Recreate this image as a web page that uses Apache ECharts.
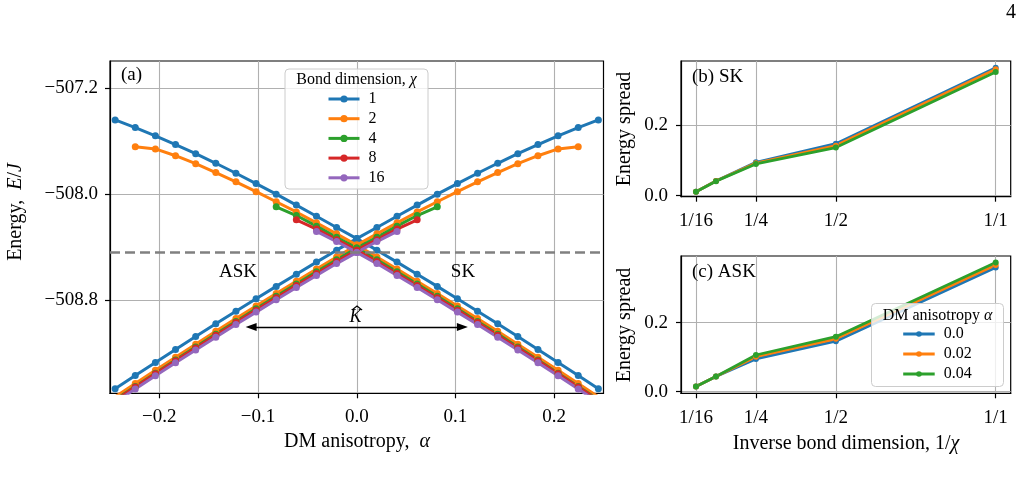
<!DOCTYPE html>
<html>
<head>
<meta charset="utf-8">
<script src="https://cdn.jsdelivr.net/npm/echarts@6/dist/echarts.min.js"></script>
<style>html,body{margin:0;padding:0;background:#fff}#c{width:1024px;height:486px}</style>
</head>
<body>
<div id="c"></div>
<script>
const FONT = '"Liberation Serif", "Times New Roman", serif';

// ---------- Panel (a): energy vs DM anisotropy ----------
const alpha = [-0.2448,-0.2244,-0.2040,-0.1836,-0.1632,-0.1428,-0.1224,-0.1020,-0.0816,-0.0612,-0.0408,-0.0204,0,
               0.0204,0.0408,0.0612,0.0816,0.1020,0.1224,0.1428,0.1632,0.1836,0.2040,0.2244,0.2448];
// SK-state energy for each bond dimension (ASK state is its mirror image in alpha)
const E_SK_chi1 = [-507.439,-507.497,-507.559,-507.625,-507.694,-507.766,-507.841,-507.919,-507.999,-508.081,-508.165,-508.250,-508.334,
                   -508.421,-508.511,-508.602,-508.694,-508.787,-508.881,-508.976,-509.072,-509.169,-509.267,-509.366,-509.466];
const E_SK_chi2 = [null,-507.641,-507.658,-507.709,-507.769,-507.836,-507.906,-507.980,-508.056,-508.133,-508.215,-508.298,-508.383,
                   -508.472,-508.563,-508.655,-508.748,-508.842,-508.937,-509.033,-509.130,-509.228,-509.327,-509.426,-509.527];
const E_SK_chi4 = [null,null,null,null,null,null,null,null,-508.094,-508.160,-508.240,-508.324,-508.405,
                   -508.493,-508.584,-508.676,-508.769,-508.863,-508.958,-509.054,-509.151,-509.249,-509.348,-509.448,-509.549];
const E_SK_chi8 = [null,null,null,null,null,null,null,null,null,-508.192,-508.262,-508.342,-508.421,
                   -508.507,-508.597,-508.688,-508.780,-508.873,-508.967,-509.062,-509.158,-509.255,-509.353,-509.452,-509.553];
const E_SK_chi16 = [null,null,null,null,null,null,null,null,null,null,-508.280,-508.356,-508.438,
                   -508.522,-508.612,-508.703,-508.795,-508.888,-508.982,-509.077,-509.173,-509.270,-509.368,-509.467,-509.568];
const chiNames = ['1','2','4','8','16'];
const alphaTicks = [-0.2,-0.1,0,0.1,0.2];
const energyTicks = [-508.8,-508.0,-507.2];
const dashedLevel = -508.445;
const arrowY = -509.0;
const arrowEnds = [-0.107, 0.107];

// ---------- Panels (b),(c): energy spread vs inverse bond dimension ----------
const invChi = [1/16, 1/8, 1/4, 1/2, 1];
const invChiTicks = [1/16, 1/4, 1/2, 1];
const invChiTickLabels = ['1/16','1/4','1/2','1/1'];
const spreadTicks = [0, 0.2];
const alphaNames = ['0.0','0.02','0.04'];
const spreadSK_a000 = [0.0113, 0.0415, 0.0943, 0.147, 0.362];
const spreadSK_a002 = [0.0113, 0.0415, 0.0920, 0.1415, 0.3575];
const spreadSK_a004 = [0.0113, 0.0410, 0.0896, 0.136, 0.350];
const spreadASK_a000 = [0.0145, 0.0435, 0.0947, 0.146, 0.360];
const spreadASK_a002 = [0.0145, 0.0435, 0.101, 0.153, 0.367];
const spreadASK_a004 = [0.0145, 0.0435, 0.106, 0.159, 0.374];

const COLORS = ['#1f77b4','#ff7f0e','#2ca02c','#d62728','#9467bd'];

function minusFmt(v, d) {
  const s = Math.abs(v).toFixed(d);
  return (v < -1e-9 ? '\u2212' : '') + s;
}
function makeAxis(o) {
  return {
    type: 'value', gridIndex: o.grid, min: o.min, max: o.max,
    axisLine: {show: true, onZero: false, lineStyle: {color: '#000', width: 1.2}},
    axisTick: {show: true, length: 5, customValues: o.ticks, lineStyle: {color: '#000', width: 1.2}},
    splitLine: {show: true, lineStyle: {color: '#b0b0b0', width: 1.1}},
    axisLabel: {customValues: o.ticks, formatter: o.fmt, color: '#000', fontFamily: FONT, fontSize: 19, margin: o.margin}
  };
}
const invFmt = v => {
  let best = 0;
  invChiTicks.forEach((t, i) => { if (Math.abs(t - v) < Math.abs(invChiTicks[best] - v)) best = i; });
  return invChiTickLabels[best];
};

const series = [];
const skSets = [E_SK_chi1, E_SK_chi2, E_SK_chi4, E_SK_chi8, E_SK_chi16];
// helper series for dashed level and arrow
series.push({
  type: 'line', xAxisIndex: 0, yAxisIndex: 0, data: [], z: 1, silent: true,
  markLine: {silent: true, symbol: 'none', label: {show: false},
    lineStyle: {color: '#808080', width: 2.6, type: [10, 5]},
    data: [{yAxis: dashedLevel}]}
});
series.push({
  type: 'line', xAxisIndex: 0, yAxisIndex: 0, data: [], z: 5, silent: true,
  markLine: {silent: true, symbol: ['triangle','triangle'], symbolSize: [8, 11], label: {show: false},
    lineStyle: {color: '#000', width: 1.3, type: 'solid'},
    data: [[{coord: [arrowEnds[0], arrowY]}, {coord: [arrowEnds[1], arrowY]}]]}
});
skSets.forEach((sk, i) => {
  const n = alpha.length;
  const skData = [], askData = [];
  alpha.forEach((a, j) => {
    if (sk[j] != null) skData.push([a, sk[j]]);
    if (sk[n - 1 - j] != null) askData.push([a, sk[n - 1 - j]]);
  });
  [skData, askData].forEach(d => {
    series.push({
      type: 'line', name: chiNames[i], xAxisIndex: 0, yAxisIndex: 0, data: d, clip: true,
      symbol: 'circle', symbolSize: 7, showSymbol: true,
      lineStyle: {color: COLORS[i], width: 3}, itemStyle: {color: COLORS[i]},
      emphasis: {disabled: true}
    });
  });
});
[[spreadSK_a000, spreadSK_a002, spreadSK_a004], [spreadASK_a000, spreadASK_a002, spreadASK_a004]].forEach((sets, p) => {
  sets.forEach((vals, i) => {
    series.push({
      type: 'line', name: alphaNames[i], xAxisIndex: p + 1, yAxisIndex: p + 1,
      data: invChi.map((x, j) => [x, vals[j]]),
      symbol: 'circle', symbolSize: 6, lineStyle: {color: COLORS[i], width: 2.8}, itemStyle: {color: COLORS[i]},
      emphasis: {disabled: true}
    });
  });
});

const txt = (x, y, text, size, align, extra) => Object.assign({
  type: 'text', x: x, y: y, z: 55,
  style: {text: text, fill: '#000', fontFamily: FONT, fontSize: size,
    align: align || 'center', verticalAlign: 'middle', textAlign: align || 'center', textVerticalAlign: 'middle',
    rich: {i: {fontStyle: 'italic', fontFamily: FONT, fontSize: size}}}
}, extra || {});

const option = {
  animation: false,
  backgroundColor: '#fff',
  grid: [
    {left: 110, top: 61, width: 493.5, height: 332.3, show: true, borderColor: '#000', borderWidth: 1.2, backgroundColor: 'transparent'},
    {left: 681, top: 61, width: 329.7, height: 135.7, show: true, borderColor: '#000', borderWidth: 1.2, backgroundColor: 'transparent'},
    {left: 681, top: 256, width: 329.7, height: 137.3, show: true, borderColor: '#000', borderWidth: 1.2, backgroundColor: 'transparent'}
  ],
  xAxis: [
    makeAxis({grid: 0, min: -0.25, max: 0.25, ticks: alphaTicks, fmt: v => minusFmt(v, 1), margin: 14}),
    makeAxis({grid: 1, min: 0.0156, max: 1.0469, ticks: invChiTicks, fmt: invFmt, margin: 15}),
    makeAxis({grid: 2, min: 0.0156, max: 1.0469, ticks: invChiTicks, fmt: invFmt, margin: 15})
  ],
  yAxis: [
    makeAxis({grid: 0, min: -509.5, max: -506.995, ticks: energyTicks, fmt: v => minusFmt(v, 1), margin: 12}),
    makeAxis({grid: 1, min: -0.003, max: 0.381, ticks: spreadTicks, fmt: v => v.toFixed(1), margin: 13}),
    makeAxis({grid: 2, min: -0.005, max: 0.393, ticks: spreadTicks, fmt: v => v.toFixed(1), margin: 13})
  ],
  legend: [
    {data: chiNames, orient: 'vertical', left: 327, top: 91, itemWidth: 31, itemHeight: 9, itemGap: 3.7,
     padding: 0, z: 60, selectedMode: false, lineStyle: {width: 3},
     textStyle: {fontFamily: FONT, fontSize: 16, lineHeight: 16, color: '#000', padding: [0, 0, 0, 4]}},
    {data: alphaNames, orient: 'vertical', left: 901.7, top: 326, itemWidth: 31.5, itemHeight: 7, itemGap: 4,
     padding: 0, z: 60, selectedMode: false, lineStyle: {width: 3},
     textStyle: {fontFamily: FONT, fontSize: 16, lineHeight: 16, color: '#000', padding: [0, 0, 0, 4]}}
  ],
  graphic: {elements: [
    {type: 'rect', z: 50, shape: {x: 285, y: 69, width: 143, height: 120, r: 4},
     style: {fill: 'rgba(255,255,255,0.8)', stroke: '#cccccc', lineWidth: 1}},
    {type: 'rect', z: 50, shape: {x: 871.5, y: 303.5, width: 132, height: 83, r: 4},
     style: {fill: 'rgba(255,255,255,0.8)', stroke: '#cccccc', lineWidth: 1}},
    txt(356.5, 80, 'Bond dimension, {i|χ}', 16),
    txt(937.5, 316, 'DM anisotropy {i|α}', 16),
    txt(131.5, 75.5, '(a)', 19),
    txt(692, 77, '(b) SK', 19, 'left'),
    txt(692, 272.5, '(c) ASK', 19, 'left'),
    txt(238, 272.5, 'ASK', 19),
    txt(463, 272.5, 'SK', 19),
    txt(355.5, 317, '{i|K}', 18),
    {type: 'polyline', z: 55, shape: {points: [[352, 310], [357, 306], [362, 310]]}, style: {stroke: '#000', lineWidth: 1.1, fill: null}},
    txt(357, 442, 'DM anisotropy,  {i|α}', 20),
    txt(846, 444, 'Inverse bond dimension, 1/{i|χ}', 20),
    txt(16, 212, 'Energy,  {i|E}/{i|J}', 20, 'center', {rotation: Math.PI / 2}),
    txt(625, 129, 'Energy spread', 20, 'center', {rotation: Math.PI / 2}),
    txt(625, 325, 'Energy spread', 20, 'center', {rotation: Math.PI / 2}),
    txt(1011, 13, '4', 20)
  ]},
  series: series
};
const chart = echarts.init(document.getElementById('c'), null, {renderer: 'canvas'});
chart.setOption(option);
</script>
</body>
</html>
